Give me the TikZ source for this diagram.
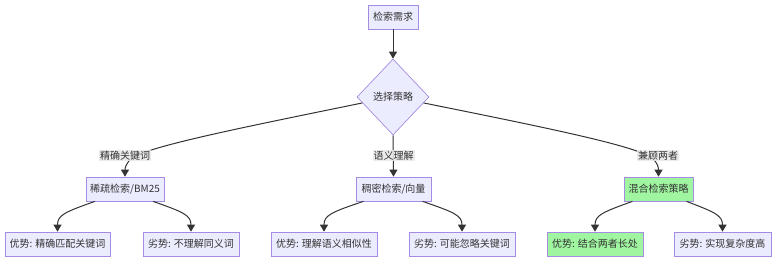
\documentclass[tikz,border=0pt]{standalone}
\usepackage{fontspec}
\setmainfont{Noto Sans CJK SC}
\usetikzlibrary{shapes.geometric,arrows.meta}
\definecolor{nodefill}{HTML}{ECECFF}
\definecolor{nodeline}{HTML}{A58BE3}
\definecolor{greenfill}{HTML}{A0F5A0}
\definecolor{edgecol}{HTML}{333333}
\definecolor{labfill}{HTML}{E8E8E8}
\definecolor{txt}{HTML}{333333}
\tikzset{
  box/.style={draw=nodeline, fill=nodefill, line width=0.7pt, minimum height=24pt, inner xsep=2pt, inner ysep=0pt, text=txt, font=\fontsize{10}{12}\selectfont},
  greenbox/.style={box, fill=greenfill},
  decide/.style={diamond, aspect=1, draw=nodeline, fill=nodefill, line width=0.7pt, minimum width=72pt, minimum height=76pt, inner sep=0pt, text=txt, font=\fontsize{10}{12}\selectfont},
  elabel/.style={fill=labfill, fill opacity=0.85, text opacity=1, inner xsep=1pt, inner ysep=1pt, text=txt, font=\fontsize{10}{12}\selectfont},
  edge/.style={draw=edgecol, line width=1pt, -{Triangle[length=7pt,width=8pt]}}
}
\begin{document}
\begin{tikzpicture}[x=1pt,y=-1pt]
\useasboundingbox (0,0) rectangle (784,264);
% nodes
\node[box, minimum width=50pt] (q) at (393,17) {检索需求};
\node[decide] (choose) at (393,97) {选择策略};
\node[box, minimum width=78pt] (sparse) at (125,189) {稀疏检索/BM25};
\node[box, minimum width=75pt] (dense) at (393.5,189) {稠密检索/向量};
\node[greenbox, minimum width=69pt] (hybrid) at (658.5,189) {混合检索策略};
\node[box, minimum width=105pt] (s1) at (57.5,244) {优势: 精确匹配关键词};
\node[box, minimum width=96pt] (s2) at (191,244) {劣势: 不理解同义词};
\node[box, minimum width=106pt] (d1) at (324,244) {优势: 理解语义相似性};
\node[box, minimum width=106pt] (d2) at (462,244) {劣势: 可能忽略关键词};
\node[greenbox, minimum width=96pt] (h1) at (595,244) {优势: 结合两者长处};
\node[box, minimum width=97pt] (h2) at (722.5,244) {劣势: 实现复杂度高};
% edges
\draw[edge] (q.south) -- (choose.north);
\draw[edge] (choose.191) .. controls (240,128) and (150,146) .. (132,158) .. controls (126,163) and (125,168) .. (sparse.north);
\draw[edge] (choose.south) -- (dense.north);
\draw[edge] (choose.-11) .. controls (548,128) and (636,146) .. (652,158) .. controls (658,163) and (658.5,168) .. (hybrid.north);
\draw[edge] ([xshift=-30pt]sparse.south) .. controls (65,212) and (57.5,215) .. (s1.north);
\draw[edge] ([xshift=28pt]sparse.south) .. controls (183,212) and (191,215) .. (s2.north);
\draw[edge] ([xshift=-30pt]dense.south) .. controls (332,212) and (324,215) .. (d1.north);
\draw[edge] ([xshift=29pt]dense.south) .. controls (453,212) and (462,215) .. (d2.north);
\draw[edge] ([xshift=-26pt]hybrid.south) .. controls (603,212) and (595,215) .. (h1.north);
\draw[edge] ([xshift=28pt]hybrid.south) .. controls (714,212) and (722.5,215) .. (h2.north);
% edge labels
\node[elabel] (l1) at (125,155.5) {精确关键词};
\node[elabel] (l2) at (393.5,155.5) {语义理解};
\node[elabel] (l3) at (658,155.5) {兼顾两者};
\end{tikzpicture}
\end{document}
